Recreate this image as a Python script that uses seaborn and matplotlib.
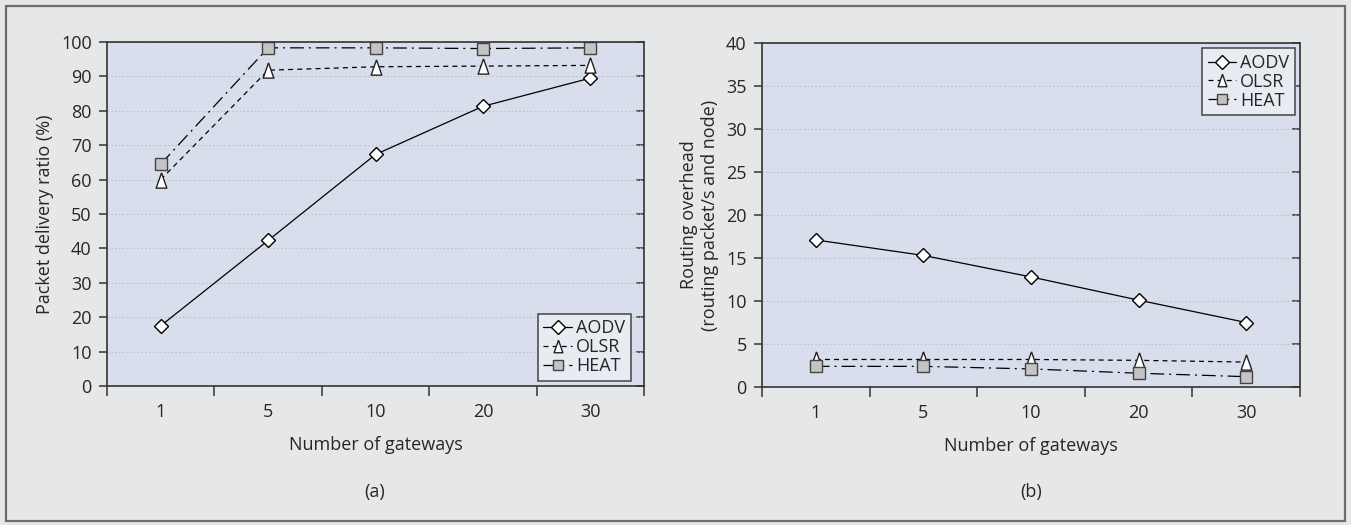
import pandas as pd
import matplotlib
matplotlib.use('Agg')
import matplotlib.pyplot as plt
import seaborn as sns
from matplotlib.patches import Rectangle
from matplotlib.ticker import FixedLocator, NullFormatter, FixedFormatter

sns.set_style('white')
plt.rcParams['font.family'] = ['Open Sans', 'DejaVu Sans']

# Data
gateways = ['1', '5', '10', '20', '30']
protocols = ['AODV', 'OLSR', 'HEAT']

pdr_aodv = [17.5, 42.3, 67.3, 81.3, 89.5]
pdr_olsr = [60.0, 91.8, 92.8, 93.0, 93.2]
pdr_heat = [64.5, 98.3, 98.3, 98.1, 98.3]

ovh_aodv = [17.1, 15.3, 12.8, 10.1, 7.5]
ovh_olsr = [3.2, 3.2, 3.2, 3.1, 2.9]
ovh_heat = [2.4, 2.4, 2.1, 1.6, 1.2]

W, H = 1351, 525
bg = '#e6e7e9'
axes_bg = '#d9deec'
FS = 13

tri = [(0, 1), (-0.7, -1), (0.7, -1), (0, 1)]
styles = {
    'AODV': dict(marker='D', markersize=7.5, markerfacecolor='white',
                 markeredgecolor='black', linestyle='-'),
    'OLSR': dict(marker=tri, markersize=11, markerfacecolor='white',
                 markeredgecolor='#222222', linestyle=(0, (4, 3.3))),
    'HEAT': dict(marker='s', markersize=8.5, markerfacecolor='#c4c4c4',
                 markeredgecolor='#444444', linestyle=(0, (11, 4, 1.6, 4))),
}
legend_sizes = {'AODV': 7, 'OLSR': 9, 'HEAT': 7}


def make_df(a, o, h):
    rows = []
    for name, vals in zip(protocols, [a, o, h]):
        for i, v in enumerate(vals):
            rows.append({'x': i, 'gw': gateways[i], 'protocol': name, 'value': v})
    return pd.DataFrame(rows)


df_a = make_df(pdr_aodv, pdr_olsr, pdr_heat)
df_b = make_df(ovh_aodv, ovh_olsr, ovh_heat)

fig = plt.figure(figsize=(W / 100, H / 100), dpi=100, facecolor=bg)
fig.patches.append(Rectangle((6 / W, 4 / H), (W - 12) / W, (H - 10) / H,
                             transform=fig.transFigure, fill=False,
                             edgecolor='#6d6d6d', linewidth=1.6))

ax1 = fig.add_axes([107 / W, 1 - 386 / H, (644 - 107) / W, (386 - 42) / H])
ax2 = fig.add_axes([762 / W, 1 - 387 / H, (1300 - 762) / W, (387 - 43) / H])


def draw(ax, df, ymax, ystep, ylabel, legend_loc, anchor):
    ax.set_facecolor(axes_bg)
    for name in protocols:
        sub = df[df['protocol'] == name]
        sns.lineplot(data=sub, x='x', y='value', ax=ax, color='black',
                     linewidth=0.9, label=name, markeredgewidth=1.0,
                     **styles[name])
    ax.set_xlim(-0.5, len(gateways) - 0.5)
    ax.set_ylim(0, ymax)
    yt = list(range(0, ymax + 1, ystep))
    ax.set_yticks(yt)
    ax.set_yticklabels([str(v) for v in yt])
    ax.yaxis.grid(True, linestyle=(0, (1.2, 2.2)), color='#b8bcc6', linewidth=0.8)
    ax.set_axisbelow(True)
    # x ticks at category boundaries, labels at centres
    ax.xaxis.set_major_locator(FixedLocator([i - 0.5 for i in range(len(gateways) + 1)]))
    ax.xaxis.set_major_formatter(NullFormatter())
    ax.xaxis.set_minor_locator(FixedLocator(list(range(len(gateways)))))
    ax.xaxis.set_minor_formatter(FixedFormatter(gateways))
    ax.tick_params(axis='x', which='major', direction='out', length=7, width=1.1,
                   color='#333333', bottom=True)
    ax.tick_params(axis='x', which='minor', length=0, pad=12, labelsize=FS,
                   bottom=True)
    ax.tick_params(axis='y', which='major', direction='out', length=6, width=1.1,
                   color='#333333', left=True, pad=5, labelsize=FS)
    sec = ax.secondary_yaxis('right')
    sec.set_yticks(yt)
    sec.tick_params(direction='in', length=6, width=1.1, color='#333333',
                    labelright=False)
    sec.spines['right'].set_visible(False)
    for s in ax.spines.values():
        s.set_color('#333333')
        s.set_linewidth(1.2)
    ax.set_xlabel('Number of gateways', fontsize=FS, labelpad=11)
    ax.set_ylabel(ylabel, fontsize=FS, labelpad=5)
    leg = ax.legend(loc=legend_loc, bbox_to_anchor=anchor, fontsize=FS,
                    handlelength=1.6, handletextpad=0.2, labelspacing=0.05,
                    borderpad=0.3, borderaxespad=0.3, fancybox=False,
                    framealpha=1, facecolor='#e9ebf2', edgecolor='#444444')
    leg.get_frame().set_linewidth(1.1)
    for h, name in zip(leg.get_lines(), protocols):
        h.set_markersize(legend_sizes[name])


draw(ax1, df_a, 100, 10, 'Packet delivery ratio (%)', 'lower right', (0.985, 0.0))
draw(ax2, df_b, 40, 5, 'Routing overhead\n(routing packet/s and node)',
     'upper right', (1.0, 1.0))

fig.text(375 / W, 1 - 492 / H, '(a)', ha='center', va='center', fontsize=FS)
fig.text(1031 / W, 1 - 492 / H, '(b)', ha='center', va='center', fontsize=FS)

fig.savefig('out.png', dpi=100, facecolor=bg)
plt.close()
